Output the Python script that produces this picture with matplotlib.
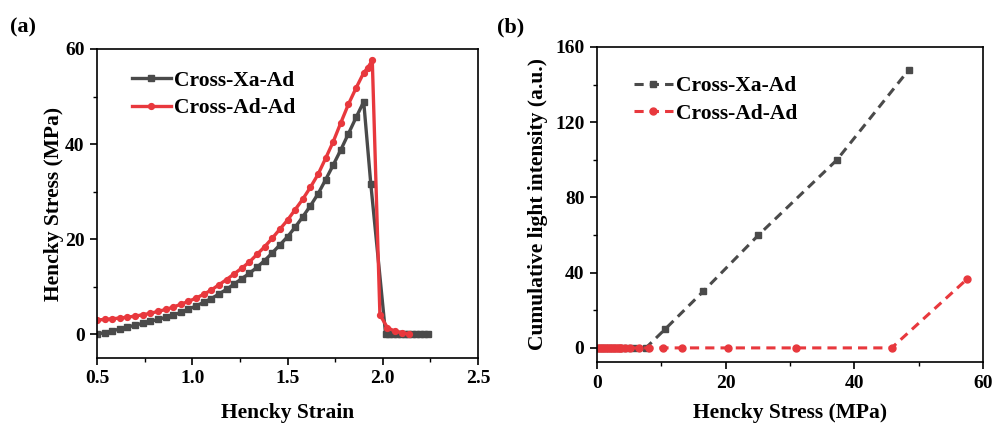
import numpy as np
import matplotlib
matplotlib.use("Agg")
from matplotlib import pyplot as plt
from matplotlib.ticker import MultipleLocator

# Panel (a): Hencky stress vs strain
strain_xa = [0.50, 0.54, 0.58, 0.62, 0.66, 0.70, 0.74, 0.78, 0.82, 0.86,
             0.90, 0.94, 0.98, 1.02, 1.06, 1.10, 1.14, 1.18, 1.22, 1.26,
             1.30, 1.34, 1.38, 1.42, 1.46, 1.50, 1.54, 1.58, 1.62, 1.66,
             1.70, 1.74, 1.78, 1.82, 1.86, 1.90, 1.937, 2.015, 2.035, 2.055,
             2.075, 2.095, 2.115, 2.135, 2.155, 2.175, 2.195, 2.215, 2.235]
stress_xa = [0.0, 0.35, 0.7, 1.1, 1.5, 1.9, 2.3, 2.7, 3.1, 3.55,
             4.0, 4.6, 5.25, 5.95, 6.7, 7.5, 8.45, 9.45, 10.55, 11.7,
             12.8, 14.1, 15.5, 17.1, 18.8, 20.5, 22.5, 24.7, 27.0, 29.5,
             32.5, 35.6, 38.8, 42.2, 45.6, 48.9, 31.7, 0.0, 0.0, 0.0,
             0.0, 0.0, 0.0, 0.0, 0.0, 0.0, 0.0, 0.0, 0.0]

strain_ad = [0.50, 0.54, 0.58, 0.62, 0.66, 0.70, 0.74, 0.78, 0.82, 0.86,
             0.90, 0.94, 0.98, 1.02, 1.06, 1.10, 1.14, 1.18, 1.22, 1.26,
             1.30, 1.34, 1.38, 1.42, 1.46, 1.50, 1.54, 1.58, 1.62, 1.66,
             1.70, 1.74, 1.78, 1.82, 1.86, 1.90, 1.92, 1.945, 1.985, 2.024,
             2.065, 2.10, 2.14]
stress_ad = [3.0, 3.1, 3.25, 3.4, 3.6, 3.8, 4.1, 4.4, 4.8, 5.2,
             5.7, 6.3, 6.9, 7.6, 8.4, 9.3, 10.4, 11.5, 12.7, 13.9,
             15.2, 16.8, 18.4, 20.2, 22.1, 24.0, 26.2, 28.4, 30.9, 33.6,
             37.0, 40.5, 44.5, 48.4, 51.8, 55.0, 56.0, 57.6, 4.1, 1.4,
             0.6, 0.35, 0.0]

# Panel (b): cumulative light intensity vs stress
b_stress_xa = [0.3, 0.8, 1.3, 1.8, 2.4, 3.0, 3.8, 4.7, 5.8, 7.6,
               10.6, 16.5, 25.1, 37.3, 48.5]
b_light_xa = [0, 0, 0, 0, 0, 0, 0, 0, 0, 0,
              10, 30, 60, 100, 148]

b_stress_ad = [0.2, 0.5, 0.8, 1.1, 1.4, 1.7, 2.0, 2.3, 2.6, 2.9,
               3.2, 3.5, 3.8, 4.4, 5.2, 6.6, 8.1, 10.3, 13.2, 20.4,
               30.9, 45.8, 57.5]
b_light_ad = [0, 0, 0, 0, 0, 0, 0, 0, 0, 0,
              0, 0, 0, 0, 0, 0, 0, 0, 0, 0,
              0, 0, 36.5]

GRAY = '#4a4a4a'
RED = '#e8383d'

plt.rcParams['font.family'] = ['Liberation Serif', 'DejaVu Serif']
plt.rcParams['font.weight'] = 'bold'
plt.rcParams['axes.labelweight'] = 'bold'
plt.rcParams['axes.linewidth'] = 1.2


def style_axes(ax):
    ax.tick_params(which='major', direction='out', length=5, width=1.2,
                   labelsize=14, pad=4)
    ax.tick_params(which='minor', direction='out', length=3, width=1.0)


fig = plt.figure(figsize=(9.94, 4.23), dpi=100)

# (a)
ax1 = fig.add_axes([0.0976, 0.1537, 0.3833, 0.7305])
ax1.plot(strain_xa, stress_xa, '-s', color=GRAY, lw=2.4, ms=4.2,
         label='Cross-Xa-Ad')
ax1.plot(strain_ad, stress_ad, '-o', color=RED, lw=2.4, ms=4.2,
         label='Cross-Ad-Ad')
ax1.set_xlim(0.5, 2.5)
ax1.set_ylim(-5, 60)
ax1.xaxis.set_major_locator(MultipleLocator(0.5))
ax1.xaxis.set_minor_locator(MultipleLocator(0.25))
ax1.yaxis.set_major_locator(MultipleLocator(20))
ax1.yaxis.set_minor_locator(MultipleLocator(10))
style_axes(ax1)
ax1.set_xlabel('Hencky Strain', fontsize=15.5, labelpad=11)
ax1.set_ylabel('Hencky Stress (MPa)', fontsize=15.5, labelpad=1)
ax1.legend(loc='upper left', bbox_to_anchor=(0.092, 0.93), frameon=False,
           fontsize=15.5, handlelength=1.8, handletextpad=0.15,
           labelspacing=0.35, borderpad=0, borderaxespad=0)

# (b)
ax2 = fig.add_axes([0.6006, 0.1442, 0.3883, 0.7447])
ax2.plot(b_stress_xa, b_light_xa, '--s', color=GRAY, lw=2.2, ms=5,
         dashes=(3, 2), label='Cross-Xa-Ad')
ax2.plot(b_stress_ad, b_light_ad, '--o', color=RED, lw=2.2, ms=5,
         dashes=(3, 2), label='Cross-Ad-Ad')
ax2.set_xlim(0, 60)
ax2.set_ylim(-7.5, 160)
ax2.xaxis.set_major_locator(MultipleLocator(20))
ax2.xaxis.set_minor_locator(MultipleLocator(10))
ax2.yaxis.set_major_locator(MultipleLocator(40))
ax2.yaxis.set_minor_locator(MultipleLocator(20))
style_axes(ax2)
ax2.set_xlabel('Hencky Stress (MPa)', fontsize=15.5, labelpad=8)
ax2.set_ylabel('Cumulative light intensity (a.u.)', fontsize=15.5, labelpad=5)
ax2.legend(loc='upper left', bbox_to_anchor=(0.096, 0.908), frameon=False,
           fontsize=15.5, handlelength=1.8, handletextpad=0.15,
           labelspacing=0.35, borderpad=0, borderaxespad=0)

fig.text(0.01, 0.936, '(a)', fontsize=16, fontweight='bold', va='center')
fig.text(0.5, 0.936, '(b)', fontsize=16, fontweight='bold', va='center')

fig.savefig('out.png', dpi=100)
